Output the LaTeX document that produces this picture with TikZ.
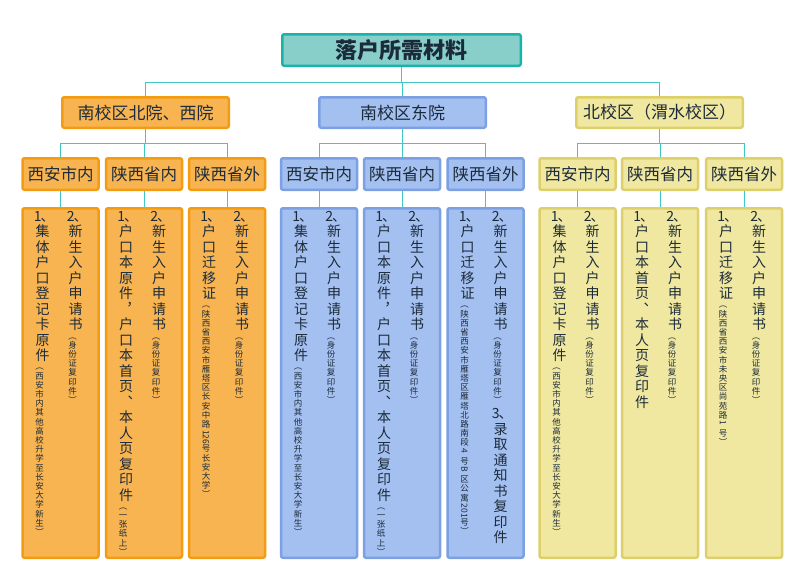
\documentclass[tikz,border=0pt]{standalone}
\usepackage{fontspec}
\setmainfont{Noto Sans CJK SC}
\definecolor{txt}{HTML}{1C2B3A}
\definecolor{lineC}{HTML}{40C8C4}
\definecolor{tF}{HTML}{88CEC9}
\definecolor{tD}{HTML}{19B3AA}
\definecolor{oF}{HTML}{F8B450}
\definecolor{oD}{HTML}{F39C12}
\definecolor{bF}{HTML}{A4C0F0}
\definecolor{bD}{HTML}{7CA0E2}
\definecolor{yF}{HTML}{F0E8A0}
\definecolor{yD}{HTML}{DDD06A}
\newdimen\VCw
\let\VCstop\relax
\def\VCstopmark{\VCstop}
\def\VCloop#1{\def\VCtmp{#1}\ifx\VCtmp\VCstopmark\else\hbox to\VCw{\hss#1\hss}\expandafter\VCloop\fi}
\newcommand\VC[1]{\VCloop#1\VCstop}
\newcommand\BigT{\fontsize{14pt}{15.5pt}\selectfont\VCw=16pt }
\newcommand\SmT{\fontsize{8.5pt}{9.2pt}\selectfont\VCw=10pt }
\newcommand\Rt[1]{\raisebox{6.5pt}{\rotatebox{-90}{#1}}}
\newcommand\One{\kern0.25em1\kern-0.08em、}
\newcommand\Two{\kern0.25em2\kern-0.08em、}
\newcommand\Three{\kern0.25em3\kern-0.08em、}
\newcommand\Col[1]{\vbox{\lineskiplimit=0pt\lineskip=0.8pt #1}}
\newcommand\ColTwo{\Col{\BigT\VC{{\Two}新生入户申请书}\SmT\VC{︵身份证复印件︶}}}
\begin{document}
\begin{tikzpicture}[x=1pt,y=-1pt,
  conn/.style={draw=lineC, line width=1pt},
  bx/.style={rounded corners=2pt, line width=2.5pt, inner sep=0pt, text=txt},
  tbx/.style={bx, fill=tF, draw=tD},
  obx/.style={bx, fill=oF, draw=oD},
  bbx/.style={bx, fill=bF, draw=bD},
  ybx/.style={bx, fill=yF, draw=yD},
  lvtop/.style={minimum width=238.5pt, minimum height=31.5pt, font=\fontsize{22pt}{26pt}\selectfont\bfseries},
  lv2/.style={minimum width=166.5pt, minimum height=30.5pt, font=\fontsize{17pt}{20pt}\selectfont},
  lv3/.style={minimum width=76pt, minimum height=31.5pt, font=\fontsize{16.5pt}{20pt}\selectfont},
  lv4/.style={minimum width=76pt, minimum height=349.5pt},
  colt/.style={inner sep=0pt, text=txt, anchor=north}]
\fill[white] (0,0) rectangle (799,565);
\useasboundingbox (0,0) rectangle (799,565);

% boxes
\node[tbx, lvtop] (top) at (401.5,50) {落户所需材料};

\node[obx, lv2] (g1) at (145.5,112.5) {南校区北院、西院};
\node[bbx, lv2] (g2) at (402.5,112.5) {南校区东院};
\node[ybx, lv2] (g3) at (659.5,112.5) {北校区（渭水校区）};

\node[obx, lv3] (c11) at (60.5,174) {西安市内};
\node[obx, lv3] (c12) at (144,174) {陕西省内};
\node[obx, lv3] (c13) at (227,174) {陕西省外};
\node[bbx, lv3] (c21) at (319,174) {西安市内};
\node[bbx, lv3] (c22) at (402,174) {陕西省内};
\node[bbx, lv3] (c23) at (485.5,174) {陕西省外};
\node[ybx, lv3] (c31) at (577.5,174) {西安市内};
\node[ybx, lv3] (c32) at (660,174) {陕西省内};
\node[ybx, lv3] (c33) at (744,174) {陕西省外};

\node[obx, lv4] (d11) at (60.5,383) {};
\node[obx, lv4] (d12) at (144,383) {};
\node[obx, lv4] (d13) at (227,383) {};
\node[bbx, lv4] (d21) at (319,383) {};
\node[bbx, lv4] (d22) at (402,383) {};
\node[bbx, lv4] (d23) at (485.5,383) {};
\node[ybx, lv4] (d31) at (577.5,383) {};
\node[ybx, lv4] (d32) at (660,383) {};
\node[ybx, lv4] (d33) at (744,383) {};

% connectors
\foreach \g in {g1,g2,g3}{
  \draw[conn] (\g.north) -- ++(0,-14) -| (top.south);
}
\foreach \i in {1,2,3}{
  \foreach \j in {1,2,3}{
    \draw[conn] (c\i\j.north) -- ++(0,-14) -| (g\i.south);
    \draw[conn] (c\i\j.south) -- (d\i\j.north);
  }
}

% vertical text columns
% orange
\node[colt] (t11a) at (42.5,211) {\Col{\BigT\VC{{\One}集体户口登记卡原件}\SmT\VC{︵西安市内其他高校升学至长安大学新生︶}}};
\node[colt] (t11b) at (75.5,211) {\ColTwo};
\node[colt] (t12a) at (126,211) {\Col{\BigT\VC{{\One}户口本原件︐户口本首页︑本人页复印件}\SmT\VC{︵一张纸上︶}}};
\node[colt] (t12b) at (159,211) {\ColTwo};
\node[colt] (t13a) at (209,211) {\Col{\BigT\VC{{\One}户口迁移证}\SmT\VC{︵陕西省西安市雁塔区长安中路{\Rt{126}}号长安大学︶}}};
\node[colt] (t13b) at (242,211) {\ColTwo};
% blue
\node[colt] (t21a) at (301,211) {\Col{\BigT\VC{{\One}集体户口登记卡原件}\SmT\VC{︵西安市内其他高校升学至长安大学新生︶}}};
\node[colt] (t21b) at (334,211) {\ColTwo};
\node[colt] (t22a) at (384,211) {\Col{\BigT\VC{{\One}户口本原件︐户口本首页︑本人页复印件}\SmT\VC{︵一张纸上︶}}};
\node[colt] (t22b) at (417,211) {\ColTwo};
\node[colt] (t23a) at (467.5,211) {\Col{\BigT\VC{{\One}户口迁移证}\SmT\VC{︵陕西省西安市雁塔区雁塔北路南段{\Rt{4}}号{\Rt{B}}区公寓{\Rt{201}}号︶}}};
\node[colt] (t23b) at (500.5,211) {\Col{\BigT\VC{{\Two}新生入户申请书}\SmT\VC{︵身份证复印件︶}\BigT\VC{{\Three}录取通知书复印件}}};
% yellow
\node[colt] (t31a) at (559.5,211) {\Col{\BigT\VC{{\One}集体户口登记卡原件}\SmT\VC{︵西安市内其他高校升学至长安大学新生︶}}};
\node[colt] (t31b) at (592.5,211) {\ColTwo};
\node[colt] (t32a) at (642,211) {\Col{\BigT\VC{{\One}户口本首页︑本人页复印件}}};
\node[colt] (t32b) at (675,211) {\ColTwo};
\node[colt] (t33a) at (726,211) {\Col{\BigT\VC{{\One}户口迁移证}\SmT\VC{︵陕西省西安市未央区尚苑路{\Rt{1}}号︶}}};
\node[colt] (t33b) at (759,211) {\ColTwo};
\end{tikzpicture}
\end{document}
